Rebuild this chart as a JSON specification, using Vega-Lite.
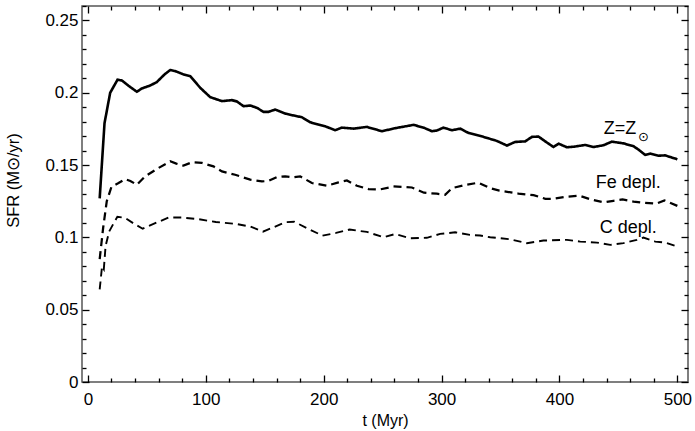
{
  "$schema": "https://vega.github.io/schema/vega-lite/v6.json",
  "width": 606,
  "height": 376,
  "autosize": {"type": "none"},
  "padding": {"left": 82, "top": 6, "right": 7, "bottom": 49},
  "background": "white",
  "config": {
    "view": {"stroke": "#555", "strokeWidth": 1.5},
    "font": "Liberation Sans",
    "axis": {
      "domain": false,
      "grid": false,
      "ticks": true,
      "tickColor": "#000",
      "tickWidth": 1.3,
      "labelFont": "Liberation Sans",
      "labelFontSize": 17,
      "labelColor": "#000",
      "titleFont": "Liberation Sans",
      "titleFontSize": 16,
      "titleFontWeight": "normal",
      "titleColor": "#000",
      "labelOverlap": false,
      "labelFlush": false,
      "zindex": 1
    }
  },
  "datasets": {
    "curves": [
      {"series": "Z", "t": 10, "sfr": 0.127}, {"series": "Z", "t": 14.1, "sfr": 0.179}, {"series": "Z", "t": 18.9, "sfr": 0.2}, {"series": "Z", "t": 25.1, "sfr": 0.209}, {"series": "Z", "t": 28.8, "sfr": 0.2085}, {"series": "Z", "t": 35, "sfr": 0.2045}, {"series": "Z", "t": 41.5, "sfr": 0.2007}, {"series": "Z", "t": 45.8, "sfr": 0.203}, {"series": "Z", "t": 52.8, "sfr": 0.205}, {"series": "Z", "t": 58.5, "sfr": 0.2074}, {"series": "Z", "t": 65, "sfr": 0.2127}, {"series": "Z", "t": 69.8, "sfr": 0.2157}, {"series": "Z", "t": 74, "sfr": 0.215}, {"series": "Z", "t": 81.1, "sfr": 0.2127}, {"series": "Z", "t": 86.8, "sfr": 0.2115}, {"series": "Z", "t": 95.2, "sfr": 0.2035}, {"series": "Z", "t": 103.7, "sfr": 0.197}, {"series": "Z", "t": 113.7, "sfr": 0.1942}, {"series": "Z", "t": 122.1, "sfr": 0.1949}, {"series": "Z", "t": 126.4, "sfr": 0.194}, {"series": "Z", "t": 132, "sfr": 0.1907}, {"series": "Z", "t": 137.7, "sfr": 0.1912}, {"series": "Z", "t": 143.3, "sfr": 0.1896}, {"series": "Z", "t": 149, "sfr": 0.1868}, {"series": "Z", "t": 153.2, "sfr": 0.1868}, {"series": "Z", "t": 158.9, "sfr": 0.1884}, {"series": "Z", "t": 167.3, "sfr": 0.1856}, {"series": "Z", "t": 174.4, "sfr": 0.1843}, {"series": "Z", "t": 181.5, "sfr": 0.1831}, {"series": "Z", "t": 188.5, "sfr": 0.1796}, {"series": "Z", "t": 201.3, "sfr": 0.1768}, {"series": "Z", "t": 209.8, "sfr": 0.1741}, {"series": "Z", "t": 215.4, "sfr": 0.1759}, {"series": "Z", "t": 225.3, "sfr": 0.1752}, {"series": "Z", "t": 236.6, "sfr": 0.1764}, {"series": "Z", "t": 249.4, "sfr": 0.1734}, {"series": "Z", "t": 260.6, "sfr": 0.1755}, {"series": "Z", "t": 276.2, "sfr": 0.1778}, {"series": "Z", "t": 284.7, "sfr": 0.1759}, {"series": "Z", "t": 291.8, "sfr": 0.1734}, {"series": "Z", "t": 296, "sfr": 0.1739}, {"series": "Z", "t": 301.6, "sfr": 0.1759}, {"series": "Z", "t": 308.7, "sfr": 0.1741}, {"series": "Z", "t": 315.8, "sfr": 0.1752}, {"series": "Z", "t": 322.8, "sfr": 0.1722}, {"series": "Z", "t": 335.6, "sfr": 0.1695}, {"series": "Z", "t": 346.9, "sfr": 0.1667}, {"series": "Z", "t": 355.4, "sfr": 0.1635}, {"series": "Z", "t": 362.4, "sfr": 0.166}, {"series": "Z", "t": 370.9, "sfr": 0.1664}, {"series": "Z", "t": 376.6, "sfr": 0.1695}, {"series": "Z", "t": 382.2, "sfr": 0.1697}, {"series": "Z", "t": 387.9, "sfr": 0.1664}, {"series": "Z", "t": 394.9, "sfr": 0.1625}, {"series": "Z", "t": 399.2, "sfr": 0.1648}, {"series": "Z", "t": 406.3, "sfr": 0.1623}, {"series": "Z", "t": 413, "sfr": 0.1628}, {"series": "Z", "t": 421.8, "sfr": 0.1639}, {"series": "Z", "t": 428.8, "sfr": 0.1625}, {"series": "Z", "t": 437.3, "sfr": 0.1637}, {"series": "Z", "t": 444.4, "sfr": 0.1662}, {"series": "Z", "t": 454.3, "sfr": 0.165}, {"series": "Z", "t": 462.8, "sfr": 0.163}, {"series": "Z", "t": 467, "sfr": 0.1607}, {"series": "Z", "t": 472.7, "sfr": 0.157}, {"series": "Z", "t": 477, "sfr": 0.1579}, {"series": "Z", "t": 484, "sfr": 0.1565}, {"series": "Z", "t": 489.6, "sfr": 0.1567}, {"series": "Z", "t": 500, "sfr": 0.154},
      {"series": "Fe", "t": 10, "sfr": 0.085}, {"series": "Fe", "t": 13, "sfr": 0.107}, {"series": "Fe", "t": 16, "sfr": 0.125}, {"series": "Fe", "t": 20, "sfr": 0.135}, {"series": "Fe", "t": 26, "sfr": 0.1376}, {"series": "Fe", "t": 31.6, "sfr": 0.1403}, {"series": "Fe", "t": 36, "sfr": 0.139}, {"series": "Fe", "t": 41.5, "sfr": 0.1364}, {"series": "Fe", "t": 48.6, "sfr": 0.1422}, {"series": "Fe", "t": 59.9, "sfr": 0.148}, {"series": "Fe", "t": 69.8, "sfr": 0.1526}, {"series": "Fe", "t": 75, "sfr": 0.151}, {"series": "Fe", "t": 81.1, "sfr": 0.1496}, {"series": "Fe", "t": 88.2, "sfr": 0.1519}, {"series": "Fe", "t": 96.7, "sfr": 0.1515}, {"series": "Fe", "t": 106.5, "sfr": 0.1491}, {"series": "Fe", "t": 113.7, "sfr": 0.1456}, {"series": "Fe", "t": 124.9, "sfr": 0.1433}, {"series": "Fe", "t": 137.7, "sfr": 0.1399}, {"series": "Fe", "t": 147.6, "sfr": 0.1387}, {"series": "Fe", "t": 153, "sfr": 0.139}, {"series": "Fe", "t": 160.3, "sfr": 0.1417}, {"series": "Fe", "t": 167.3, "sfr": 0.1422}, {"series": "Fe", "t": 174, "sfr": 0.1415}, {"series": "Fe", "t": 180.1, "sfr": 0.1422}, {"series": "Fe", "t": 190, "sfr": 0.1376}, {"series": "Fe", "t": 202.7, "sfr": 0.1357}, {"series": "Fe", "t": 212.6, "sfr": 0.138}, {"series": "Fe", "t": 219.7, "sfr": 0.1394}, {"series": "Fe", "t": 228.2, "sfr": 0.1357}, {"series": "Fe", "t": 238, "sfr": 0.1334}, {"series": "Fe", "t": 247.9, "sfr": 0.1332}, {"series": "Fe", "t": 259.2, "sfr": 0.1352}, {"series": "Fe", "t": 274.8, "sfr": 0.1345}, {"series": "Fe", "t": 285, "sfr": 0.1309}, {"series": "Fe", "t": 296, "sfr": 0.1302}, {"series": "Fe", "t": 303, "sfr": 0.1295}, {"series": "Fe", "t": 309, "sfr": 0.1341}, {"series": "Fe", "t": 321.5, "sfr": 0.1365}, {"series": "Fe", "t": 331.3, "sfr": 0.1378}, {"series": "Fe", "t": 341.2, "sfr": 0.1341}, {"series": "Fe", "t": 349, "sfr": 0.1323}, {"series": "Fe", "t": 365.2, "sfr": 0.1303}, {"series": "Fe", "t": 378, "sfr": 0.1292}, {"series": "Fe", "t": 388, "sfr": 0.1267}, {"series": "Fe", "t": 395, "sfr": 0.1267}, {"series": "Fe", "t": 405.5, "sfr": 0.1281}, {"series": "Fe", "t": 417, "sfr": 0.1288}, {"series": "Fe", "t": 427.5, "sfr": 0.126}, {"series": "Fe", "t": 437.8, "sfr": 0.1242}, {"series": "Fe", "t": 445.8, "sfr": 0.1253}, {"series": "Fe", "t": 453.5, "sfr": 0.1262}, {"series": "Fe", "t": 462.8, "sfr": 0.1248}, {"series": "Fe", "t": 471, "sfr": 0.124}, {"series": "Fe", "t": 482, "sfr": 0.1233}, {"series": "Fe", "t": 489, "sfr": 0.1256}, {"series": "Fe", "t": 500, "sfr": 0.1218},
      {"series": "C", "t": 10, "sfr": 0.064}, {"series": "C", "t": 12, "sfr": 0.08}, {"series": "C", "t": 13.5, "sfr": 0.078}, {"series": "C", "t": 15, "sfr": 0.094}, {"series": "C", "t": 18, "sfr": 0.104}, {"series": "C", "t": 22, "sfr": 0.11}, {"series": "C", "t": 25, "sfr": 0.1142}, {"series": "C", "t": 31.6, "sfr": 0.1135}, {"series": "C", "t": 40, "sfr": 0.109}, {"series": "C", "t": 46.5, "sfr": 0.106}, {"series": "C", "t": 57.1, "sfr": 0.1098}, {"series": "C", "t": 68.5, "sfr": 0.1137}, {"series": "C", "t": 79.7, "sfr": 0.1137}, {"series": "C", "t": 93.8, "sfr": 0.1126}, {"series": "C", "t": 108.5, "sfr": 0.1106}, {"series": "C", "t": 124.9, "sfr": 0.1094}, {"series": "C", "t": 137.7, "sfr": 0.1075}, {"series": "C", "t": 148.5, "sfr": 0.104}, {"series": "C", "t": 158.9, "sfr": 0.1075}, {"series": "C", "t": 167.3, "sfr": 0.1105}, {"series": "C", "t": 175, "sfr": 0.1108}, {"series": "C", "t": 185.7, "sfr": 0.1064}, {"series": "C", "t": 199, "sfr": 0.1012}, {"series": "C", "t": 210.5, "sfr": 0.1031}, {"series": "C", "t": 222, "sfr": 0.1054}, {"series": "C", "t": 236.6, "sfr": 0.1038}, {"series": "C", "t": 250.7, "sfr": 0.1001}, {"series": "C", "t": 260.6, "sfr": 0.1023}, {"series": "C", "t": 273.4, "sfr": 0.0994}, {"series": "C", "t": 287.5, "sfr": 0.0997}, {"series": "C", "t": 298.8, "sfr": 0.1024}, {"series": "C", "t": 311.5, "sfr": 0.1035}, {"series": "C", "t": 324, "sfr": 0.1017}, {"series": "C", "t": 332.7, "sfr": 0.1013}, {"series": "C", "t": 341.2, "sfr": 0.1001}, {"series": "C", "t": 358.2, "sfr": 0.0987}, {"series": "C", "t": 372.3, "sfr": 0.096}, {"series": "C", "t": 386.4, "sfr": 0.0978}, {"series": "C", "t": 406.3, "sfr": 0.0983}, {"series": "C", "t": 417.6, "sfr": 0.0971}, {"series": "C", "t": 431.7, "sfr": 0.0964}, {"series": "C", "t": 443, "sfr": 0.0948}, {"series": "C", "t": 454.3, "sfr": 0.096}, {"series": "C", "t": 465.6, "sfr": 0.0983}, {"series": "C", "t": 471.2, "sfr": 0.0999}, {"series": "C", "t": 481.2, "sfr": 0.0971}, {"series": "C", "t": 489.6, "sfr": 0.0964}, {"series": "C", "t": 500, "sfr": 0.0936}
    ],
    "zlabel": [
      {"label": "Z=Z", "t": 451.4, "sfr": 0.1715}
    ],
    "labels": [
      {"label": "Fe depl.", "t": 458.4, "sfr": 0.1344},
      {"label": "C depl.", "t": 458.4, "sfr": 0.1028}
    ],
    "sub": [
      {"label": "⊙", "t": 466.5, "sfr": 0.1668}
    ]
  },
  "layer": [
    {
      "data": {"name": "curves"},
      "mark": {"type": "line", "color": "#000", "interpolate": "linear"},
      "encoding": {
        "x": {
          "field": "t", "type": "quantitative",
          "scale": {"domain": [-5, 509], "nice": false, "zero": false},
          "axis": {"orient": "bottom", "title": "t (Myr)", "values": [0, 100, 200, 300, 400, 500], "tickSize": -7, "labelPadding": 16, "titleX": 303, "titleY": 43, "titleAnchor": null, "titleAlign": "center", "titleBaseline": "alphabetic"}
        },
        "y": {
          "field": "sfr", "type": "quantitative",
          "scale": {"domain": [0, 0.26], "nice": false, "zero": true},
          "axis": {"orient": "left", "title": "SFR (M⊙/yr)", "values": [0, 0.05, 0.1, 0.15, 0.2, 0.25], "format": "~g", "tickSize": -7, "labelPadding": 11, "titleX": -69, "titleY": 174, "titleAngle": -90, "titleAlign": "center", "titleBaseline": "middle", "titleFontSize": 16.5}
        },
        "strokeDash": {"field": "series", "type": "nominal", "scale": {"domain": ["Z", "Fe", "C"], "range": [[1, 0], [8, 5], [8, 5]]}, "legend": null},
        "strokeWidth": {"field": "series", "type": "ordinal", "scale": {"domain": ["Z", "Fe", "C"], "range": [2.6, 1.9, 1.9]}, "legend": null}
      }
    },
    {
      "data": {"name": "zlabel"},
      "mark": {"type": "text", "align": "center", "baseline": "alphabetic", "fontSize": 18, "font": "Liberation Sans", "color": "#000"},
      "encoding": {
        "x": {"field": "t", "type": "quantitative", "axis": {"orient": "top", "title": null, "labels": false, "values": [0, 100, 200, 300, 400, 500], "tickSize": -7}},
        "y": {"field": "sfr", "type": "quantitative", "axis": {"orient": "right", "title": null, "labels": false, "values": [0, 0.05, 0.1, 0.15, 0.2, 0.25], "tickSize": -7}},
        "text": {"field": "label"}
      }
    },
    {
      "data": {"name": "labels"},
      "mark": {"type": "text", "align": "center", "baseline": "alphabetic", "fontSize": 18, "font": "Liberation Sans", "color": "#000"},
      "encoding": {
        "x": {"field": "t", "type": "quantitative", "axis": {"orient": "bottom", "title": null, "labels": false, "values": [20, 40, 60, 80, 120, 140, 160, 180, 220, 240, 260, 280, 320, 340, 360, 380, 420, 440, 460, 480], "tickSize": -4}},
        "y": {"field": "sfr", "type": "quantitative", "axis": {"orient": "left", "title": null, "labels": false, "values": [0.01, 0.02, 0.03, 0.04, 0.06, 0.07, 0.08, 0.09, 0.11, 0.12, 0.13, 0.14, 0.16, 0.17, 0.18, 0.19, 0.21, 0.22, 0.23, 0.24, 0.26], "tickSize": -4}},
        "text": {"field": "label"}
      }
    },
    {
      "data": {"name": "sub"},
      "mark": {"type": "text", "align": "left", "baseline": "alphabetic", "fontSize": 13, "font": "DejaVu Sans", "color": "#000"},
      "encoding": {
        "x": {"field": "t", "type": "quantitative", "axis": {"orient": "top", "title": null, "labels": false, "values": [20, 40, 60, 80, 120, 140, 160, 180, 220, 240, 260, 280, 320, 340, 360, 380, 420, 440, 460, 480], "tickSize": -4}},
        "y": {"field": "sfr", "type": "quantitative", "axis": {"orient": "right", "title": null, "labels": false, "values": [0.01, 0.02, 0.03, 0.04, 0.06, 0.07, 0.08, 0.09, 0.11, 0.12, 0.13, 0.14, 0.16, 0.17, 0.18, 0.19, 0.21, 0.22, 0.23, 0.24, 0.26], "tickSize": -4}},
        "text": {"field": "label"}
      }
    }
  ],
  "resolve": {"axis": {"x": "independent", "y": "independent"}}
}
